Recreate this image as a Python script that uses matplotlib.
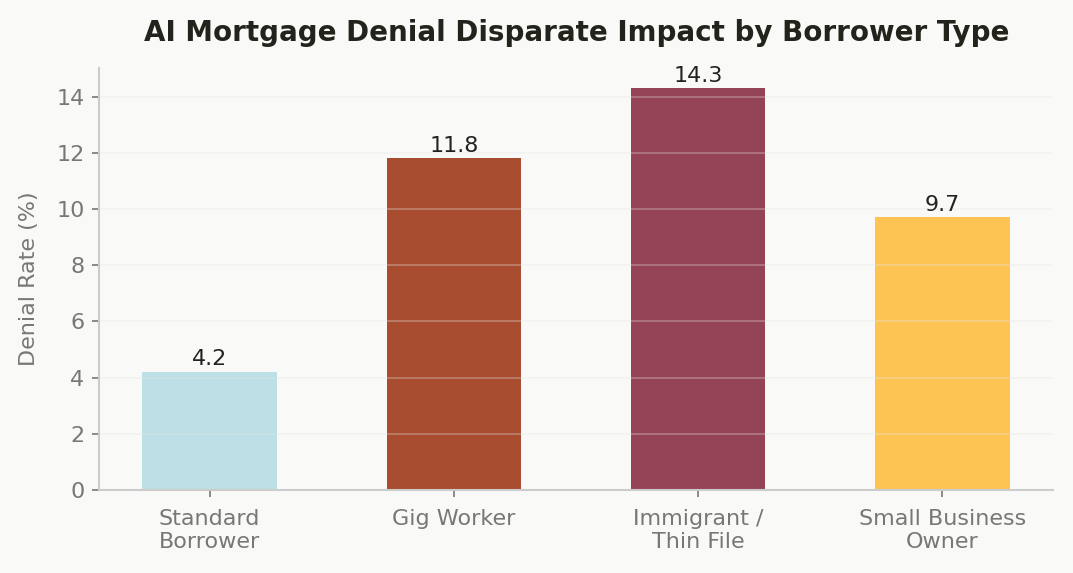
import matplotlib
matplotlib.use("Agg")
import matplotlib.pyplot as plt

plt.rcParams["font.family"] = ["DejaVu Sans"]

categories = ["Standard\nBorrower", "Gig Worker", "Immigrant /\nThin File", "Small Business\nOwner"]
denial_rates = [4.2, 11.8, 14.3, 9.7]
bar_colors = ["#BDE0E6", "#A84D2F", "#944456", "#FDC453"]

bg = "#F9F9F7"
fig = plt.figure(figsize=(1073 / 150, 573 / 150), dpi=150, facecolor=bg)
ax = fig.add_axes([0.0923, 0.1449, 0.8891, 0.7364], facecolor=bg)

x = range(len(categories))
bars = ax.bar(x, denial_rates, width=0.55, color=bar_colors)

for rect, val in zip(bars, denial_rates):
    ax.annotate(f"{val}", (rect.get_x() + rect.get_width() / 2, rect.get_height()),
                xytext=(0, 1.2), textcoords="offset points", ha="center", va="bottom",
                fontsize=10.7, color="#222222")

ax.set_xticks(list(x))
ax.set_xticklabels(categories, fontsize=10.7, color="#777777")
ax.tick_params(axis="y", labelsize=10.7, labelcolor="#777777", color="#777777")
ax.tick_params(axis="x", color="#777777", pad=5.5)
ax.set_ylim(0, max(denial_rates) * 1.05)
ax.set_ylabel("Denial Rate (%)", fontsize=10.7, color="#777777", labelpad=8)

ax.grid(axis="y", color="#E6E6E3", linewidth=0.8, alpha=0.35)
ax.grid(axis="x", visible=False)
for side in ["top", "right"]:
    ax.spines[side].set_visible(False)
for side in ["left", "bottom"]:
    ax.spines[side].set_color("#CCCCCC")
    ax.spines[side].set_linewidth(1.0)

fig.suptitle("AI Mortgage Denial Disparate Impact by Borrower Type", x=0.537, y=0.966,
             fontsize=13.3, fontweight="bold", color="#23231C")

fig.savefig("out.png", dpi=150, facecolor=bg)
